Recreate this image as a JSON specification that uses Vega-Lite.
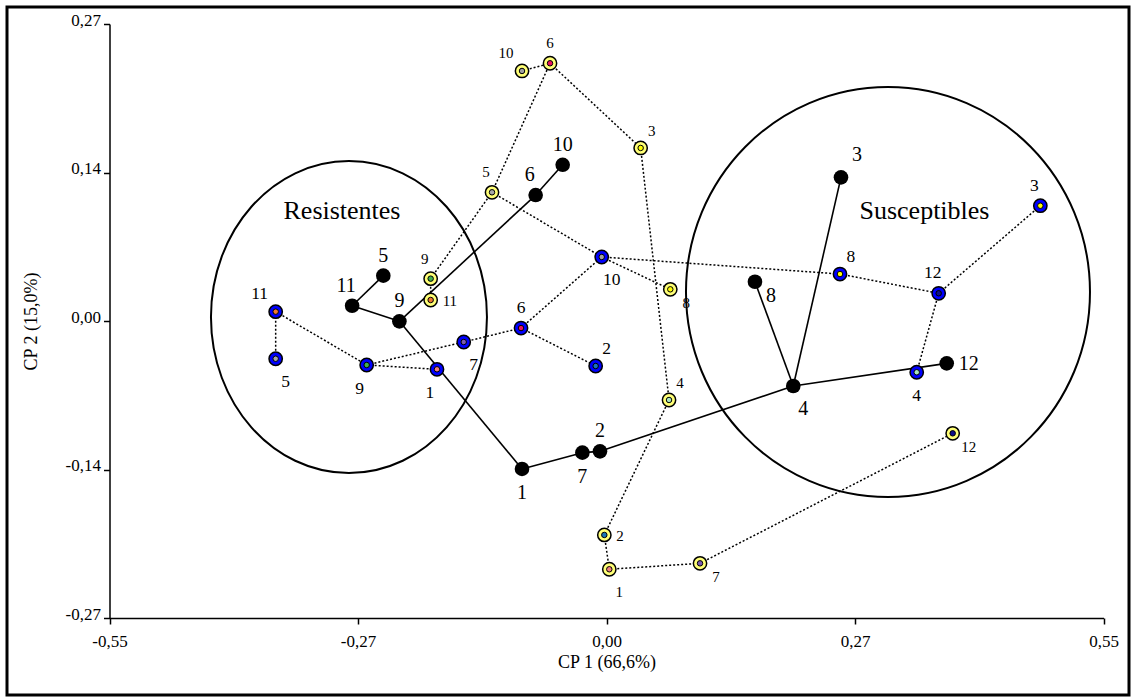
{
  "$schema": "https://vega.github.io/schema/vega-lite/v6.json",
  "width": 1122,
  "height": 688,
  "autosize": "none",
  "padding": {"left": 7, "top": 7, "right": 5, "bottom": 3},
  "background": "white",
  "config": {
    "view": {"stroke": "black", "strokeWidth": 3},
    "font": "Liberation Serif",
    "axis": {
      "grid": false,
      "domainColor": "black",
      "domainWidth": 1.5,
      "tickColor": "black",
      "tickWidth": 1.5,
      "tickSize": 6,
      "labelFont": "Liberation Serif",
      "labelFontSize": 17,
      "labelColor": "black",
      "labelFlush": false,
      "labelOverlap": false,
      "titleFont": "Liberation Serif",
      "titleFontSize": 18,
      "titleFontWeight": "normal",
      "titleColor": "black"
    }
  },
  "datasets": {
    "pts": [
      {"id": "N1", "g": "negro", "n": "1", "x": -0.0935, "y": -0.1345, "pos": "s"},
      {"id": "N2", "g": "negro", "n": "2", "x": -0.0072, "y": -0.1185, "pos": "n"},
      {"id": "N3", "g": "negro", "n": "3", "x": 0.2595, "y": 0.1306, "pos": "NE"},
      {"id": "N4", "g": "negro", "n": "4", "x": 0.2067, "y": -0.0591, "pos": "sse"},
      {"id": "N5", "g": "negro", "n": "5", "x": -0.247, "y": 0.0412, "pos": "n"},
      {"id": "N6", "g": "negro", "n": "6", "x": -0.0784, "y": 0.1145, "pos": "nnw"},
      {"id": "N7", "g": "negro", "n": "7", "x": -0.0267, "y": -0.1197, "pos": "s"},
      {"id": "N8", "g": "negro", "n": "8", "x": 0.1643, "y": 0.0357, "pos": "se"},
      {"id": "N9", "g": "negro", "n": "9", "x": -0.2292, "y": -0.0003, "pos": "n"},
      {"id": "N10", "g": "negro", "n": "10", "x": -0.0485, "y": 0.142, "pos": "n"},
      {"id": "N11", "g": "negro", "n": "11", "x": -0.2815, "y": 0.0139, "pos": "nnw"},
      {"id": "N12", "g": "negro", "n": "12", "x": 0.3765, "y": -0.0385, "pos": "e"},
      {"id": "A1", "g": "azul", "n": "1", "x": -0.1876, "y": -0.0439, "pos": "ssw"},
      {"id": "A2", "g": "azul", "n": "2", "x": -0.012, "y": -0.0409, "pos": "ne"},
      {"id": "A3", "g": "azul", "n": "3", "x": 0.4801, "y": 0.1048, "pos": "nnw"},
      {"id": "A4", "g": "azul", "n": "4", "x": 0.3433, "y": -0.0466, "pos": "s"},
      {"id": "A5", "g": "azul", "n": "5", "x": -0.3661, "y": -0.0343, "pos": "sse"},
      {"id": "A6", "g": "azul", "n": "6", "x": -0.0946, "y": -0.0064, "pos": "n"},
      {"id": "A7", "g": "azul", "n": "7", "x": -0.158, "y": -0.0191, "pos": "sse"},
      {"id": "A8", "g": "azul", "n": "8", "x": 0.2584, "y": 0.0427, "pos": "ne"},
      {"id": "A9", "g": "azul", "n": "9", "x": -0.2654, "y": -0.04, "pos": "ssw"},
      {"id": "A10", "g": "azul", "n": "10", "x": -0.0053, "y": 0.0582, "pos": "sse"},
      {"id": "A11", "g": "azul", "n": "11", "x": -0.3661, "y": 0.0085, "pos": "nw"},
      {"id": "A12", "g": "azul", "n": "12", "x": 0.3676, "y": 0.0252, "pos": "nnw"},
      {"id": "Y1", "g": "amarillo", "n": "1", "x": 0.0031, "y": -0.2257, "pos": "sse"},
      {"id": "Y2", "g": "amarillo", "n": "2", "x": -0.0024, "y": -0.1945, "pos": "e"},
      {"id": "Y3", "g": "amarillo", "n": "3", "x": 0.0378, "y": 0.1573, "pos": "ne"},
      {"id": "Y4", "g": "amarillo", "n": "4", "x": 0.0692, "y": -0.0718, "pos": "ne"},
      {"id": "Y5", "g": "amarillo", "n": "5", "x": -0.1267, "y": 0.117, "pos": "nnw"},
      {"id": "Y6", "g": "amarillo", "n": "6", "x": -0.0625, "y": 0.2343, "pos": "n"},
      {"id": "Y7", "g": "amarillo", "n": "7", "x": 0.1035, "y": -0.2203, "pos": "se"},
      {"id": "Y8", "g": "amarillo", "n": "8", "x": 0.0706, "y": 0.0288, "pos": "se"},
      {"id": "Y9", "g": "amarillo", "n": "9", "x": -0.1946, "y": 0.0385, "pos": "nnw"},
      {"id": "Y10", "g": "amarillo", "n": "10", "x": -0.0935, "y": 0.2273, "pos": "nw"},
      {"id": "Y11", "g": "amarillo", "n": "11", "x": -0.1946, "y": 0.0191, "pos": "e"},
      {"id": "Y12", "g": "amarillo", "n": "12", "x": 0.3831, "y": -0.1021, "pos": "se"}
    ],
    "aristas": [
      {"e": "n1", "t": "s", "id": "N5"}, {"e": "n1", "t": "s", "id": "N11"},
      {"e": "n2", "t": "s", "id": "N11"}, {"e": "n2", "t": "s", "id": "N9"},
      {"e": "n3", "t": "s", "id": "N9"}, {"e": "n3", "t": "s", "id": "N6"},
      {"e": "n4", "t": "s", "id": "N6"}, {"e": "n4", "t": "s", "id": "N10"},
      {"e": "n5", "t": "s", "id": "N9"}, {"e": "n5", "t": "s", "id": "N1"},
      {"e": "n6", "t": "s", "id": "N1"}, {"e": "n6", "t": "s", "id": "N7"},
      {"e": "n7", "t": "s", "id": "N7"}, {"e": "n7", "t": "s", "id": "N2"},
      {"e": "n8", "t": "s", "id": "N2"}, {"e": "n8", "t": "s", "id": "N4"},
      {"e": "n9", "t": "s", "id": "N4"}, {"e": "n9", "t": "s", "id": "N12"},
      {"e": "n10", "t": "s", "id": "N4"}, {"e": "n10", "t": "s", "id": "N3"},
      {"e": "n11", "t": "s", "id": "N4"}, {"e": "n11", "t": "s", "id": "N8"},
      {"e": "a1", "t": "d", "id": "A5"}, {"e": "a1", "t": "d", "id": "A11"},
      {"e": "a2", "t": "d", "id": "A11"}, {"e": "a2", "t": "d", "id": "A9"},
      {"e": "a3", "t": "d", "id": "A9"}, {"e": "a3", "t": "d", "id": "A1"},
      {"e": "a4", "t": "d", "id": "A9"}, {"e": "a4", "t": "d", "id": "A7"},
      {"e": "a5", "t": "d", "id": "A7"}, {"e": "a5", "t": "d", "id": "A6"},
      {"e": "a6", "t": "d", "id": "A6"}, {"e": "a6", "t": "d", "id": "A2"},
      {"e": "a7", "t": "d", "id": "A6"}, {"e": "a7", "t": "d", "id": "A10"},
      {"e": "a8", "t": "d", "id": "A10"}, {"e": "a8", "t": "d", "id": "A8"},
      {"e": "a9", "t": "d", "id": "A8"}, {"e": "a9", "t": "d", "id": "A12"},
      {"e": "a10", "t": "d", "id": "A12"}, {"e": "a10", "t": "d", "id": "A3"},
      {"e": "a11", "t": "d", "id": "A12"}, {"e": "a11", "t": "d", "id": "A4"},
      {"e": "y1", "t": "d", "id": "Y10"}, {"e": "y1", "t": "d", "id": "Y6"},
      {"e": "y2", "t": "d", "id": "Y6"}, {"e": "y2", "t": "d", "id": "Y5"},
      {"e": "y3", "t": "d", "id": "Y6"}, {"e": "y3", "t": "d", "id": "Y3"},
      {"e": "y4", "t": "d", "id": "Y5"}, {"e": "y4", "t": "d", "id": "Y9"},
      {"e": "y5", "t": "d", "id": "Y9"}, {"e": "y5", "t": "d", "id": "Y11"},
      {"e": "y6", "t": "d", "id": "Y3"}, {"e": "y6", "t": "d", "id": "Y4"},
      {"e": "y7", "t": "d", "id": "Y4"}, {"e": "y7", "t": "d", "id": "Y2"},
      {"e": "y8", "t": "d", "id": "Y2"}, {"e": "y8", "t": "d", "id": "Y1"},
      {"e": "y9", "t": "d", "id": "Y1"}, {"e": "y9", "t": "d", "id": "Y7"},
      {"e": "y10", "t": "d", "id": "Y7"}, {"e": "y10", "t": "d", "id": "Y12"},
      {"e": "y11", "t": "d", "id": "Y5"}, {"e": "y11", "t": "d", "id": "A10"},
      {"e": "y12", "t": "d", "id": "A10"}, {"e": "y12", "t": "d", "id": "Y8"}
    ],
    "elipses": [
      {"nombre": "Resistentes", "x": -0.285, "y": 0.0036},
      {"nombre": "Susceptibles", "x": 0.3115, "y": 0.0264}
    ],
    "grupos": [
      {"nombre": "Resistentes", "x": -0.2927, "y": 0.0927},
      {"nombre": "Susceptibles", "x": 0.3519, "y": 0.0927}
    ],
    "cero": [{"v": 0}]
  },
  "encoding": {
    "x": {
      "field": "x", "type": "quantitative", "title": "CP 1 (66,6%)",
      "scale": {"domain": [-0.55, 0.55], "range": [102.5, 1096.5], "nice": false, "zero": false},
      "axis": {
        "values": [-0.55, -0.275, 0, 0.275, 0.55],
        "labelExpr": "datum.value < -0.5 ? '-0,55' : datum.value < -0.2 ? '-0,27' : datum.value < 0.1 ? '0,00' : datum.value < 0.5 ? '0,27' : '0,55'",
        "offset": -77, "labelPadding": 9, "titlePadding": 4
      }
    },
    "y": {
      "field": "y", "type": "quantitative", "title": "CP 2 (15,0%)",
      "scale": {"domain": [-0.27, 0.27], "range": [611, 17], "nice": false, "zero": false},
      "axis": {
        "values": [-0.27, -0.135, 0, 0.135, 0.27],
        "labelExpr": "datum.value < -0.2 ? '-0,27' : datum.value < -0.1 ? '-0,14' : datum.value < 0.1 ? '0,00' : datum.value < 0.2 ? '0,14' : '0,27'",
        "offset": -102.5, "labelPadding": 3, "labelOffset": -4, "titlePadding": 25
      }
    }
  },
  "layer": [
    {
      "data": {"name": "cero"},
      "mark": {"type": "rule", "color": "#d0d0d0", "strokeWidth": 1.5},
      "encoding": {"x": {"datum": 0}, "y": {"datum": -0.27}, "y2": {"datum": 0.27}}
    },
    {
      "data": {"name": "cero"},
      "mark": {"type": "rule", "color": "#d0d0d0", "strokeWidth": 1.5},
      "encoding": {"y": {"datum": 0}, "x": {"datum": -0.55}, "x2": {"datum": 0.55}}
    },
    {
      "data": {"name": "elipses"},
      "transform": [{"filter": "datum.nombre == 'Resistentes'"}],
      "mark": {"type": "point", "shape": "M-1,0C-1,-0.6243,-0.5523,-1.1304,0,-1.1304C0.5523,-1.1304,1,-0.6243,1,0C1,0.6243,0.5523,1.1304,0,1.1304C-0.5523,1.1304,-1,0.6243,-1,0Z", "filled": false, "stroke": "black", "strokeWidth": 2, "size": 76176, "opacity": 1}
    },
    {
      "data": {"name": "elipses"},
      "transform": [{"filter": "datum.nombre == 'Susceptibles'"}],
      "mark": {"type": "point", "shape": "M-1,0C-1,-0.5605,-0.5523,-1.0149,0,-1.0149C0.5523,-1.0149,1,-0.5605,1,0C1,0.5605,0.5523,1.0149,0,1.0149C-0.5523,1.0149,-1,0.5605,-1,0Z", "filled": false, "stroke": "black", "strokeWidth": 2, "size": 163216, "opacity": 1}
    },
    {
      "data": {"name": "aristas"},
      "transform": [
        {"lookup": "id", "from": {"data": {"name": "pts"}, "key": "id", "fields": ["x", "y"]}},
        {"filter": "datum.t == 'd'"}
      ],
      "mark": {"type": "line", "color": "black", "strokeWidth": 1.5, "strokeDash": [2, 2]},
      "encoding": {"detail": {"field": "e"}}
    },
    {
      "data": {"name": "aristas"},
      "transform": [
        {"lookup": "id", "from": {"data": {"name": "pts"}, "key": "id", "fields": ["x", "y"]}},
        {"filter": "datum.t == 's'"}
      ],
      "mark": {"type": "line", "color": "black", "strokeWidth": 1.6},
      "encoding": {"detail": {"field": "e"}}
    },
    {
      "data": {"name": "pts"},
      "transform": [{"filter": "datum.g == 'negro'"}],
      "mark": {"type": "point", "shape": "circle", "filled": true, "color": "black", "size": 214, "opacity": 1}
    },
    {
      "data": {"name": "pts"},
      "transform": [{"filter": "datum.g == 'azul'"}],
      "mark": {"type": "point", "shape": "circle", "filled": true, "fill": "#0000ff", "stroke": "black", "strokeWidth": 1.5, "size": 177, "opacity": 1}
    },
    {
      "data": {"name": "pts"},
      "transform": [{"filter": "datum.g == 'amarillo'"}],
      "mark": {"type": "point", "shape": "circle", "filled": true, "fill": "#ffff77", "stroke": "black", "strokeWidth": 1.5, "size": 177, "opacity": 1}
    },
    {
      "data": {"name": "pts"},
      "transform": [{"filter": "datum.g != 'negro'"}],
      "mark": {"type": "point", "shape": "circle", "filled": true, "stroke": "black", "strokeWidth": 1, "size": 30, "opacity": 1},
      "encoding": {
        "fill": {
          "field": "n", "type": "nominal", "legend": null,
          "scale": {
            "domain": ["1", "2", "3", "4", "5", "6", "7", "8", "9", "10", "11", "12"],
            "range": ["#f08080", "#1874b8", "#ffff00", "#a8e4c0", "#a8a8a8", "#e8105c", "#7a5ab0", "#ffff00", "#40b050", "#a0a0a0", "#f07830", "#10108a"]
          }
        }
      }
    },
    {
      "data": {"name": "pts"},
      "transform": [{"filter": "datum.pos == 'n'"}],
      "mark": {"type": "text", "font": "Liberation Serif", "baseline": "middle", "align": "center", "dx": 0, "dy": -20, "color": "black"},
      "encoding": {"text": {"field": "n"}, "size": {"field": "g", "type": "ordinal", "legend": null, "scale": {"domain": ["negro", "azul", "amarillo"], "range": [20, 15, 15]}}}
    },
    {
      "data": {"name": "pts"},
      "transform": [{"filter": "datum.pos == 'nnw'"}],
      "mark": {"type": "text", "font": "Liberation Serif", "baseline": "middle", "align": "center", "dx": -6, "dy": -20, "color": "black"},
      "encoding": {"text": {"field": "n"}, "size": {"field": "g", "type": "ordinal", "legend": null, "scale": {"domain": ["negro", "azul", "amarillo"], "range": [20, 15, 15]}}}
    },
    {
      "data": {"name": "pts"},
      "transform": [{"filter": "datum.pos == 'nw'"}],
      "mark": {"type": "text", "font": "Liberation Serif", "baseline": "middle", "align": "center", "dx": -16, "dy": -18, "color": "black"},
      "encoding": {"text": {"field": "n"}, "size": {"field": "g", "type": "ordinal", "legend": null, "scale": {"domain": ["negro", "azul", "amarillo"], "range": [20, 15, 15]}}}
    },
    {
      "data": {"name": "pts"},
      "transform": [{"filter": "datum.pos == 'ne'"}],
      "mark": {"type": "text", "font": "Liberation Serif", "baseline": "middle", "align": "center", "dx": 11, "dy": -17, "color": "black"},
      "encoding": {"text": {"field": "n"}, "size": {"field": "g", "type": "ordinal", "legend": null, "scale": {"domain": ["negro", "azul", "amarillo"], "range": [20, 15, 15]}}}
    },
    {
      "data": {"name": "pts"},
      "transform": [{"filter": "datum.pos == 'NE'"}],
      "mark": {"type": "text", "font": "Liberation Serif", "baseline": "middle", "align": "center", "dx": 16, "dy": -22, "color": "black"},
      "encoding": {"text": {"field": "n"}, "size": {"field": "g", "type": "ordinal", "legend": null, "scale": {"domain": ["negro", "azul", "amarillo"], "range": [20, 15, 15]}}}
    },
    {
      "data": {"name": "pts"},
      "transform": [{"filter": "datum.pos == 's'"}],
      "mark": {"type": "text", "font": "Liberation Serif", "baseline": "middle", "align": "center", "dx": 0, "dy": 24, "color": "black"},
      "encoding": {"text": {"field": "n"}, "size": {"field": "g", "type": "ordinal", "legend": null, "scale": {"domain": ["negro", "azul", "amarillo"], "range": [20, 15, 15]}}}
    },
    {
      "data": {"name": "pts"},
      "transform": [{"filter": "datum.pos == 'ssw'"}],
      "mark": {"type": "text", "font": "Liberation Serif", "baseline": "middle", "align": "center", "dx": -7, "dy": 24, "color": "black"},
      "encoding": {"text": {"field": "n"}, "size": {"field": "g", "type": "ordinal", "legend": null, "scale": {"domain": ["negro", "azul", "amarillo"], "range": [20, 15, 15]}}}
    },
    {
      "data": {"name": "pts"},
      "transform": [{"filter": "datum.pos == 'sse'"}],
      "mark": {"type": "text", "font": "Liberation Serif", "baseline": "middle", "align": "center", "dx": 10, "dy": 23, "color": "black"},
      "encoding": {"text": {"field": "n"}, "size": {"field": "g", "type": "ordinal", "legend": null, "scale": {"domain": ["negro", "azul", "amarillo"], "range": [20, 15, 15]}}}
    },
    {
      "data": {"name": "pts"},
      "transform": [{"filter": "datum.pos == 'se'"}],
      "mark": {"type": "text", "font": "Liberation Serif", "baseline": "middle", "align": "center", "dx": 16, "dy": 14, "color": "black"},
      "encoding": {"text": {"field": "n"}, "size": {"field": "g", "type": "ordinal", "legend": null, "scale": {"domain": ["negro", "azul", "amarillo"], "range": [20, 15, 15]}}}
    },
    {
      "data": {"name": "pts"},
      "transform": [{"filter": "datum.pos == 'e'"}],
      "mark": {"type": "text", "font": "Liberation Serif", "baseline": "middle", "align": "left", "dx": 12, "dy": 1, "color": "black"},
      "encoding": {"text": {"field": "n"}, "size": {"field": "g", "type": "ordinal", "legend": null, "scale": {"domain": ["negro", "azul", "amarillo"], "range": [20, 15, 15]}}}
    },
    {
      "data": {"name": "grupos"},
      "mark": {"type": "text", "font": "Liberation Serif", "fontSize": 26, "baseline": "alphabetic", "align": "center", "color": "black"},
      "encoding": {"text": {"field": "nombre"}}
    }
  ]
}
